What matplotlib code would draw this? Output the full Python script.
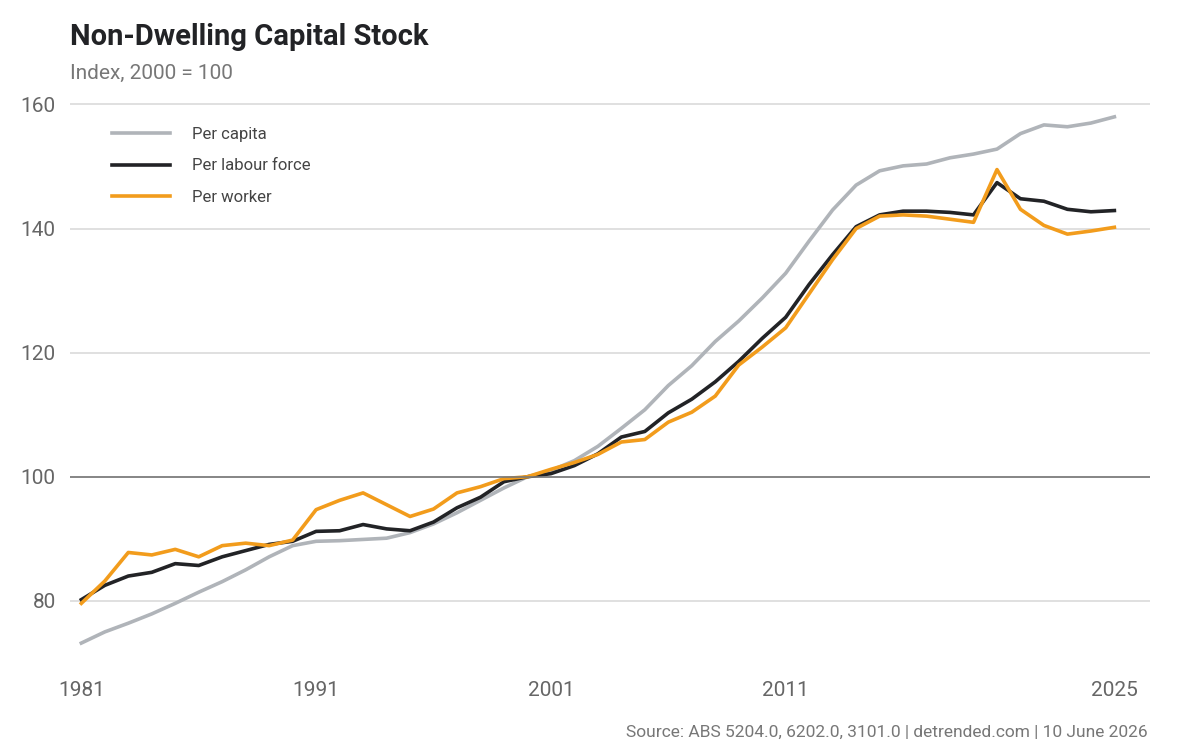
import matplotlib
matplotlib.use('Agg')
import matplotlib.pyplot as plt

years = list(range(1981, 2026))
per_capita = [73.2, 75.0, 76.4, 77.9, 79.6, 81.4, 83.1, 85.0, 87.1, 88.9,
              89.6, 89.7, 89.9, 90.1, 91.0, 92.4, 94.2, 96.2, 98.2, 100.0,
              101.0, 102.6, 104.9, 107.8, 110.8, 114.7, 117.9, 121.8, 125.1, 128.8,
              132.8, 138.0, 143.0, 147.0, 149.3, 150.1, 150.4, 151.4, 152.0, 152.8,
              155.3, 156.7, 156.4, 157.0, 158.0]
per_labour = [80.2, 82.5, 84.0, 84.6, 86.0, 85.7, 87.1, 88.1, 89.1, 89.6,
              91.2, 91.3, 92.3, 91.6, 91.3, 92.7, 95.0, 96.7, 99.2, 100.0,
              100.5, 101.8, 103.7, 106.4, 107.3, 110.3, 112.5, 115.3, 118.6, 122.3,
              125.7, 131.0, 135.8, 140.3, 142.2, 142.8, 142.8, 142.6, 142.2, 147.4,
              144.8, 144.4, 143.1, 142.7, 142.9]
per_worker = [79.6, 83.2, 87.8, 87.4, 88.3, 87.1, 88.9, 89.3, 88.9, 89.8,
              94.7, 96.2, 97.4, 95.5, 93.6, 94.8, 97.4, 98.4, 99.7, 100.0,
              101.2, 102.3, 103.6, 105.6, 106.0, 108.8, 110.4, 113.0, 118.0, 120.9,
              124.0, 129.5, 135.0, 140.0, 142.0, 142.2, 142.0, 141.5, 141.0, 149.5,
              143.1, 140.5, 139.1, 139.6, 140.2]
x_ticks = [1981, 1991, 2001, 2011, 2025]
y_ticks = [80, 100, 120, 140, 160]

plt.rcParams['font.family'] = ['Roboto', 'DejaVu Sans']

fig = plt.figure(figsize=(12, 7.5), dpi=100)
ax = fig.add_axes([0.058, 0.107, 0.9, 0.767])

ax.plot(years, per_capita, color='#b0b4b9', lw=2.6, label='Per capita')
ax.plot(years, per_labour, color='#222326', lw=2.6, label='Per labour force')
ax.plot(years, per_worker, color='#f29c1c', lw=2.6, label='Per worker')

ax.set_xlim(1980.5, 2026.5)
ax.set_ylim(68.9, 161.6)
ax.set_xticks(x_ticks)
ax.set_yticks(y_ticks)
ax.grid(axis='y', color='#dddddd', lw=1.3)
ax.axhline(100, color='#777777', lw=1.2)
ax.set_axisbelow(True)
for s in ax.spines.values():
    s.set_visible(False)
ax.tick_params(length=0, labelsize=15, labelcolor='#666666')
ax.tick_params(axis='y', pad=10)
ax.tick_params(axis='x', pad=8)

leg = ax.legend(loc='upper left', bbox_to_anchor=(0.025, 0.97), frameon=False,
                fontsize=12, handlelength=3.5, handletextpad=1.3, labelspacing=1.0)
for t in leg.get_texts():
    t.set_color('#444444')

fig.text(0.058, 0.94, 'Non-Dwelling Capital Stock', fontsize=21, fontweight='bold', color='#222326')
fig.text(0.058, 0.895, 'Index, 2000 = 100', fontsize=15, color='#777777')
fig.text(0.956, 0.018, 'Source: ABS 5204.0, 6202.0, 3101.0 | detrended.com | 10 June 2026',
         fontsize=12.5, color='#777777', ha='right')

fig.savefig('out.png', dpi=100)
